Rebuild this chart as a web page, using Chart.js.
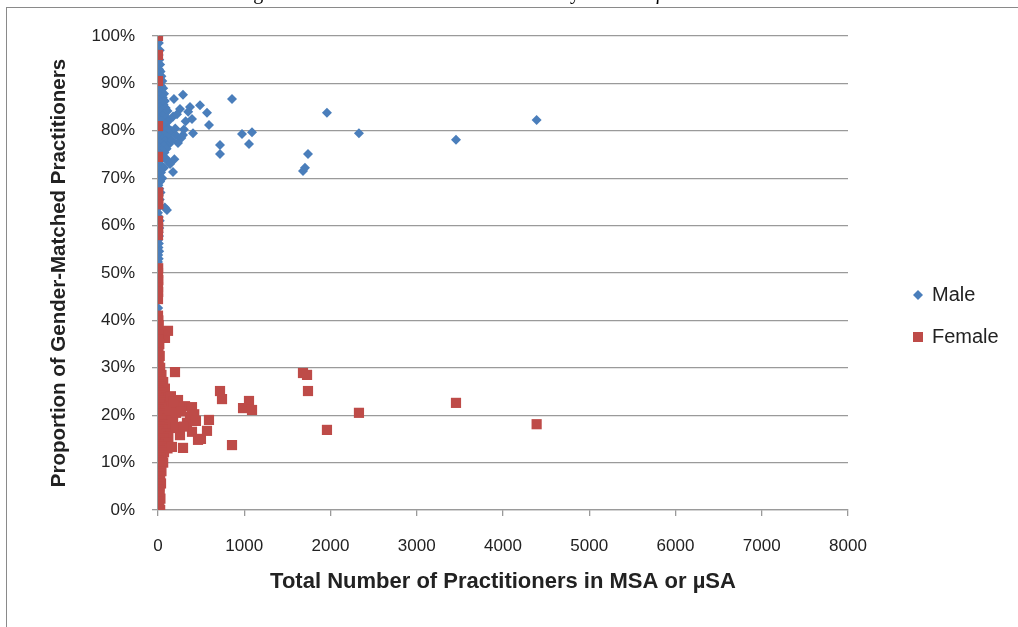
<!DOCTYPE html>
<html lang="en">
<head>
<meta charset="UTF-8">
<title>Gender-Matched Practitioners by MSA or µSA</title>
<script src="https://cdn.jsdelivr.net/npm/chart.js"></script>
<style>
  html, body { margin: 0; padding: 0; background: #fff; }
  #wrap { width: 1018px; height: 627px; }
</style>
</head>
<body>
<div id="wrap"><canvas id="chart" width="1018" height="627"></canvas></div>
<script>
  // [total practitioners, share %]
  const malePoints = [
    [5,100],[10,98.5],[20,97],[8,96],[15,95],[25,94],[12,93],[30,92.5],[5,92],[40,91.5],
    [20,91],[50,90.5],[10,90],[35,89.5],[60,89],[15,88.5],[45,88],[70,87.8],[25,87.5],[55,87],
    [5,86.5],[80,86.3],[35,86],[65,85.5],[15,85],[90,84.8],[45,84.5],[110,84.2],[25,84],[75,83.5],
    [55,83],[100,82.7],[10,82.5],[130,82.2],[40,82],[85,81.5],[20,81],[60,80.8],[120,80.5],[5,80.2],
    [95,80],[150,79.8],[35,79.5],[70,79.2],[15,79],[110,78.6],[50,78.2],[85,77.9],[25,77.5],[130,77.2],
    [65,76.9],[10,76.5],[100,76.2],[40,75.8],[75,75.4],[20,75],[55,74.6],[90,74.2],[30,73.8],[115,73.5],
    [8,73],[45,72.6],[70,72.2],[20,71.8],[35,71.2],[10,70.6],[50,70],[25,69.3],[5,68.5],[15,67.8],
    [30,67],[10,66.3],[20,65.5],[5,64.8],[15,64],[104,63.3],[80,63.8],[0,62.7],[10,61.8],[20,61],
    [5,60.2],[15,59.5],[8,58.6],[12,57.8],[4,57],[10,56.2],[6,55.4],[14,54.6],[3,53.8],[9,53],
    [0,52.3],[2,42.6],[0,0],[0,10],[0,25],[0,33.3],
    [290,87.6],[185,86.7],[858,86.7],[487,85.4],[568,83.8],[591,81.2],[1959,83.8],[255,84.6],[371,85.0],[394,82.5],
    [406,79.5],[290,79.1],[232,77.4],[719,77.0],[719,75.1],[974,79.3],[1090,79.7],[1055,77.2],[1739,75.1],[1704,72.2],
    [1681,71.5],[174,71.3],[2330,79.5],[3455,78.1],[4390,82.3],
    [150,80],[200,80.5],[160,78],[175,83],[210,79],[270,78.5],[320,82],[350,84],[300,80.3],[220,83.5],
    [190,74],[140,73]
  ];

  const femalePoints = [
    [0,100],[0,96],[0,90.5],[0,81],[0,74.5],[2,67],[0,66],[4,64.5],[0,61],[2,59.5],
    [0,58],[2,51],[0,50],[4,48.5],[0,47],[2,46],[0,44.5],[0,41],[4,40],[8,39],
    [0,38],[81,36.3],[116,37.8],[10,37],[0,36],[15,35],[5,34],[0,33.3],[20,32.5],[8,31.5],
    [0,30.5],[25,30],[12,29.5],[197,29.1],[40,28.5],[5,28],[18,27.5],[60,27],[0,26.5],[30,26],
    [80,25.6],[10,25.2],[50,24.8],[22,24.2],[100,23.8],[0,23.5],[35,23],[70,22.6],[15,22.2],[130,22],
    [45,21.6],[5,21.2],[90,20.8],[25,20.4],[150,20.2],[60,20],[10,19.6],[110,19.2],[35,18.8],[0,18.4],
    [75,18],[20,17.6],[140,17.3],[50,17],[8,16.6],[95,16.2],[30,15.8],[120,15.4],[60,15],[15,14.6],
    [85,14.2],[0,13.8],[40,13.4],[110,13],[22,12.6],[70,12.2],[5,11.8],[50,11.4],[30,11],[10,10.5],
    [60,10],[20,9.4],[0,8.8],[40,8.2],[12,7.6],[25,7],[5,6.3],[35,5.6],[15,5],[0,4.3],
    [20,3.6],[8,3],[28,2.4],[0,1.8],[15,1.2],[5,0.6],[0,0],[25,0],
    [232,23.2],[313,21.9],[243,21.5],[394,21.7],[371,19.6],[336,18.4],[394,16.5],[255,15.8],[464,14.8],[290,13.1],
    [162,13.3],[498,15.0],[568,16.7],[591,19.0],[719,25.1],[742,23.4],[986,21.5],[1055,23.0],[1090,21.1],[858,13.7],
    [1681,28.9],[1728,28.5],[1739,25.1],[1959,16.9],[2330,20.5],[3455,22.6],[4390,18.1],
    [150,24],[175,19],[205,17.5],[140,21],[180,22.8],[210,20.5],[270,20.8],[300,17.6],[420,20.2],[440,18.8]
  ];

  const seriesNames = ['Male', 'Female'];
  const seriesColors = ['#4A7EBB', '#BE4B48'];
  const xTitle = 'Total Number of Practitioners in MSA or µSA';
  const yTitle = 'Proportion of Gender-Matched Practitioners';
  const figureCaption = 'Figure 5. Gender-Matched Practitioners by MSA or µSA';

  const toXY = pts => pts.map(p => ({ x: p[0], y: p[1] }));

  // white page, grey frame, cut-off caption and legend
  const decor = {
    id: 'decor',
    beforeDraw(chart) {
      const c = chart.ctx;
      c.save();
      c.fillStyle = '#fff';
      c.fillRect(0, 0, chart.width, chart.height);
      c.strokeStyle = '#8a8a8a';
      c.lineWidth = 1;
      c.strokeRect(6.5, 7.5, 1100, 700);
      c.fillStyle = '#000';
      c.font = '20px "Liberation Serif"';
      c.textAlign = 'right';
      c.textBaseline = 'alphabetic';
      c.fillText(figureCaption, 692, -1);
      c.restore();
    },
    afterDraw(chart) {
      const c = chart.ctx;
      c.save();
      c.fillStyle = seriesColors[0];
      c.beginPath();
      c.moveTo(918, 290); c.lineTo(923, 295); c.lineTo(918, 300); c.lineTo(913, 295);
      c.closePath(); c.fill();
      c.fillStyle = seriesColors[1];
      c.fillRect(913, 332, 10, 10);
      c.fillStyle = '#222';
      c.font = '20px "Liberation Sans"';
      c.textAlign = 'left';
      c.textBaseline = 'middle';
      c.fillText(seriesNames[0], 932, 295);
      c.fillText(seriesNames[1], 932, 337);
      c.restore();
    }
  };

  new Chart(document.getElementById('chart'), {
    type: 'scatter',
    data: {
      datasets: [{
        label: seriesNames[0],
        data: toXY(malePoints),
        pointStyle: 'rectRot',
        pointRadius: 5,
        pointBorderWidth: 0,
        backgroundColor: seriesColors[0],
        borderColor: seriesColors[0],
        order: 1
      }, {
        label: seriesNames[1],
        data: toXY(femalePoints),
        pointStyle: 'rect',
        pointRadius: 7.2,
        pointBorderWidth: 0,
        backgroundColor: seriesColors[1],
        borderColor: seriesColors[1],
        order: 0
      }]
    },
    options: {
      responsive: false,
      animation: false,
      events: [],
      layout: { padding: { left: 10, top: 36, right: 170, bottom: 20 } },
      plugins: { legend: { display: false }, tooltip: { enabled: false } },
      scales: {
        x: {
          min: 0, max: 8000,
          afterFit: s => { s.height = 97; },
          ticks: { stepSize: 1000, color: '#222', padding: 20, callback: v => String(v),
                   font: { family: 'Liberation Sans', size: 17 } },
          grid: { drawOnChartArea: false, tickLength: 6, color: '#9a9a9a', lineWidth: 1.3 },
          border: { color: '#9a9a9a', width: 1.3 },
          title: { display: true, text: xTitle, color: '#222', padding: { top: 0, bottom: 12 },
                   font: { family: 'Liberation Sans', size: 22, weight: 'bold' } }
        },
        y: {
          min: 0, max: 100,
          afterFit: s => { s.width = 148; },
          ticks: { stepSize: 10, color: '#222', padding: 17, callback: v => v + '%',
                   font: { family: 'Liberation Sans', size: 17 } },
          grid: { tickLength: 6, color: '#9a9a9a', lineWidth: 1.3 },
          border: { color: '#9a9a9a', width: 1.3 },
          title: { display: true, text: yTitle, color: '#222', padding: { top: 37, bottom: 0 },
                   font: { family: 'Liberation Sans', size: 20.5, weight: 'bold' } }
        }
      }
    },
    plugins: [decor]
  });
</script>
</body>
</html>
